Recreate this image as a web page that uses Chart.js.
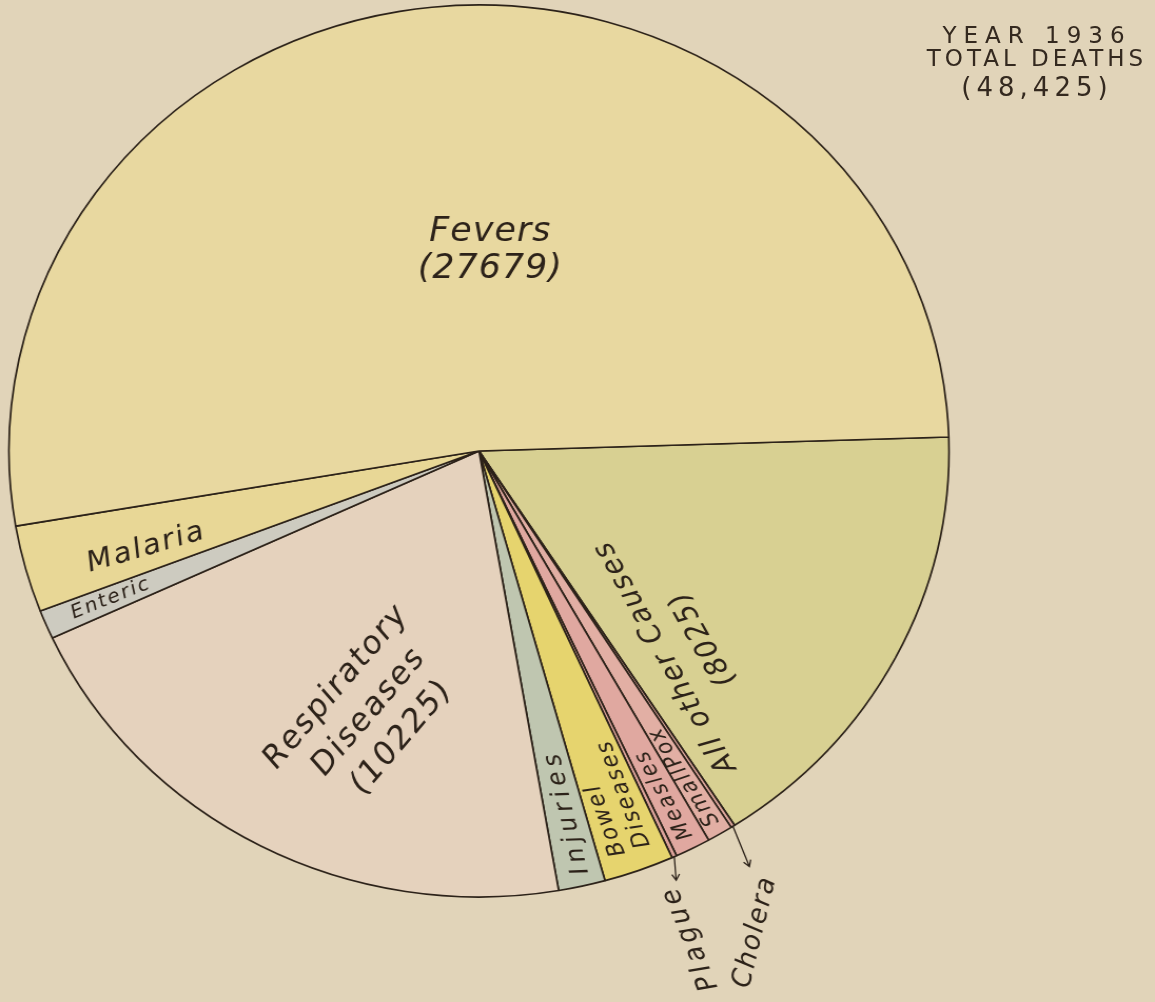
<!DOCTYPE html>
<html>
<head>
<meta charset="utf-8">
<title>Total deaths 1936</title>
<script src="https://cdn.jsdelivr.net/npm/chart.js@4.4.1/dist/chart.umd.min.js"></script>
<style>
  html, body { margin: 0; padding: 0; background: #e1d4b9; }
  #wrap { position: relative; width: 1155px; height: 1002px; overflow: hidden; }
  #pie { position: absolute; left: 0; top: 0; }
  .note { position: absolute; left: 917px; width: 240px; text-align: center; white-space: nowrap;
          font-family: "DejaVu Sans", sans-serif; color: #34291f; }
</style>
</head>
<body>
<div id="wrap">
  <!-- drawn 1096 wide and stretched to 1155, the original circle is a little wider than tall -->
  <canvas id="pie" width="1096" height="1002" style="width:1155px;height:1002px"></canvas>
</div>
<script>
// order is clockwise, starting at the line just above 3 o'clock
const causes = ['All other Causes', 'Cholera', 'Small Pox', 'Measles', 'Plague', 'Bowel Diseases',
                'Injuries', 'Respiratory Diseases', 'Enteric', 'Malaria', 'Fevers'];
// Fevers (27679) = Enteric + Malaria + other fevers; small causes
const deaths = [8025, 68, 436, 600, 82, 1185, 790, 10225, 514, 1543, 25622];
const fills = ['#d8d092', '#dca59c', '#e2afa4', '#e0a8a0', '#dca29a', '#e6d46e',
               '#bfc6b0', '#e5d2bd', '#cdcbc0', '#e8d796', '#e8d8a0'];
const titleLines = ['YEAR 1936', 'TOTAL DEATHS', '(48,425)'];

const ink = '#2c2219';
const fevers = deaths[8] + deaths[9] + deaths[10];

// title block, top right
const titleStyle = [
  {top: 22, size: 23, ls: 7},
  {top: 45, size: 23, ls: 4},
  {top: 74, size: 26, ls: 5},
];
titleLines.forEach((t, k) => {
  const d = document.createElement('div');
  d.className = 'note';
  d.textContent = t;
  d.style.top = titleStyle[k].top + 'px';
  d.style.fontSize = titleStyle[k].size + 'px';
  d.style.lineHeight = '27px';
  d.style.letterSpacing = titleStyle[k].ls + 'px';
  document.getElementById('wrap').appendChild(d);
});

// i = slice, t = position across the slice, r = fraction of radius, rot = null means along the radius
const sliceLabels = [
  {i: 10, t: 0.547, r: 0.45, rot: 0, size: 33, ls: 1, lh: 37, lines: ['Fevers', '(' + fevers + ')']},
  {i: 9, t: 0.35, r: 0.74, rot: null, size: 28, ls: 2, lh: 0, lines: ['Malaria']},
  {i: 8, t: 0.5, r: 0.85, rot: null, size: 19, ls: 2, lh: 0, lines: ['Enteric']},
  {i: 7, t: 0.42, r: 0.63, rot: -51, size: 31, ls: 2, lh: 40,
   lines: ['Respiratory', 'Diseases', '(' + deaths[7] + ')']},
  {i: 0, t: 0.8, r: 0.62, rot: -118, size: 28, ls: 2, lh: 40,
   lines: ['All other Causes', '(' + deaths[0] + ')']},
  {i: 6, t: 0.45, r: 0.83, rot: null, size: 24, ls: 5, lh: 0, lines: ['Injuries']},
  {i: 5, t: 0.5, r: 0.955, rot: null, size: 22, ls: 2, lh: 25, align: 'left', lines: ['Bowel', 'Diseases']},
  {i: 3, t: 0.5, r: 0.865, rot: null, size: 21, ls: 2, lh: 0, lines: ['Measles']},
  {i: 2, t: 0.5, r: 0.85, rot: null, size: 21, ls: 2, lh: 0, lines: ['SmallPox']},
  {i: 4, t: 0.5, dAng: 2.2, r: 1.18, rot: -111, size: 26, ls: 4, lh: 0, lines: ['Plague']},
  {i: 1, t: 0.5, dAng: 4.1, r: 1.228, rot: -77, size: 26, ls: 2, lh: 0, lines: ['Cholera']},
];
const arrows = [
  {i: 4, dAng: 1.0, r: 1.05},
  {i: 1, dAng: 1.0, r: 1.095},
];

const labelPlugin = {
  id: 'sliceLabels',
  afterDatasetsDraw(chart) {
    const ctx = chart.ctx;
    const arcs = chart.getDatasetMeta(0).data;
    const deg = Math.PI / 180;
    ctx.save();
    ctx.fillStyle = ink;
    ctx.strokeStyle = ink;
    for (const l of sliceLabels) {
      const a = arcs[l.i];
      const ang = a.startAngle + l.t * (a.endAngle - a.startAngle) + (l.dAng || 0) * deg;
      const px = a.x + Math.cos(ang) * a.outerRadius * l.r;
      const py = a.y + Math.sin(ang) * a.outerRadius * l.r;
      ctx.save();
      ctx.translate(px, py);
      ctx.rotate(l.rot == null ? ang - Math.PI : l.rot * deg);
      ctx.font = `oblique ${l.size}px "DejaVu Sans"`;
      ctx.letterSpacing = l.ls + 'px';
      ctx.textAlign = l.align || 'center';
      ctx.textBaseline = 'middle';
      const n = l.lines.length;
      l.lines.forEach((s, k) => ctx.fillText(s, 0, (k - (n - 1) / 2) * l.lh));
      ctx.restore();
    }
    ctx.lineWidth = 1.3;
    for (const ar of arrows) {
      const a = arcs[ar.i];
      const mid = (a.startAngle + a.endAngle) / 2;
      const end = mid + ar.dAng * deg;
      const x0 = a.x + Math.cos(mid) * a.outerRadius;
      const y0 = a.y + Math.sin(mid) * a.outerRadius;
      const x1 = a.x + Math.cos(end) * a.outerRadius * ar.r;
      const y1 = a.y + Math.sin(end) * a.outerRadius * ar.r;
      const dir = Math.atan2(y1 - y0, x1 - x0);
      ctx.beginPath();
      ctx.moveTo(x0, y0);
      ctx.lineTo(x1, y1);
      ctx.moveTo(x1 + Math.cos(dir + 2.6) * 7, y1 + Math.sin(dir + 2.6) * 7);
      ctx.lineTo(x1, y1);
      ctx.lineTo(x1 + Math.cos(dir - 2.6) * 7, y1 + Math.sin(dir - 2.6) * 7);
      ctx.stroke();
    }
    ctx.restore();
  }
};

const data = {
  labels: causes,
  datasets: [{
    data: deaths,
    backgroundColor: fills,
    borderColor: ink,
    borderWidth: 1.7,
  }],
};

const config = {
  type: 'pie',
  data: data,
  options: {
    responsive: false,
    animation: false,
    rotation: 88.2,
    radius: 446,
    layout: {padding: {left: 8.5, right: 195.5, top: 5, bottom: 105}},
    plugins: {
      legend: {display: false},
      tooltip: {enabled: false},
    },
  },
  plugins: [labelPlugin],
};
const myChart = new Chart(document.getElementById('pie'), config);
</script>
</body>
</html>
